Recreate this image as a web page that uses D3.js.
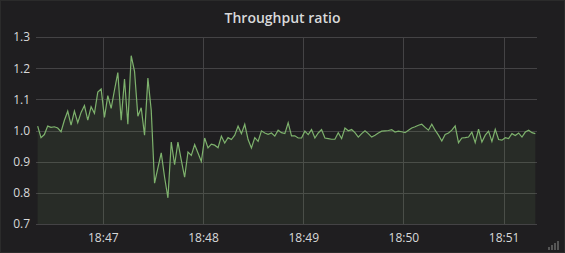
<!DOCTYPE html>
<html>
<head>
<meta charset="utf-8">
<script src="https://cdn.jsdelivr.net/npm/d3@7"></script>
<style>
  html, body { margin: 0; padding: 0; background: #141414; }
  svg { display: block; }
  .tick text { font-family: "Open Sans", sans-serif; font-size: 12px; fill: #d8d9da; }
</style>
</head>
<body>
<svg id="chart" width="565" height="253"></svg>
<script>
// Panel title and axis ticks
const title = "Throughput ratio";
const yTicks = [0.7, 0.8, 0.9, 1.0, 1.1, 1.2, 1.3];
const xTickLabels = ["18:47", "18:48", "18:49", "18:50", "18:51"];

// Time window shown and sampling of the series
const rangeStart = "18:46:20";
const rangeEnd = "18:51:20";
const firstSample = "18:46:21";
const sampleStepSec = 2;

// Throughput ratio, one value per sample
const ratio = [
  1.014, 0.977, 0.987, 1.014, 1.010, 1.012, 1.008, 0.996, 1.033, 1.062,
  1.017, 1.062, 1.025, 1.058, 1.080, 1.033, 1.076, 1.055, 1.123, 1.133,
  1.042, 1.112, 1.071, 1.130, 1.186, 1.033, 1.165, 1.020, 1.240, 1.190,
  1.046, 1.073, 0.985, 1.168, 1.065, 0.831, 0.880, 0.928, 0.850, 0.784,
  0.963, 0.890, 0.963, 0.905, 0.850, 0.931, 0.920, 0.955, 0.928, 0.901,
  0.976, 0.944, 0.956, 0.953, 0.945, 0.982, 0.960, 0.977, 0.971, 0.985,
  1.014, 0.990, 1.020, 0.971, 0.944, 0.977, 0.965, 0.999, 0.992, 0.988,
  0.992, 0.982, 1.001, 0.993, 0.990, 1.025, 0.983, 0.983, 0.976, 0.976,
  0.998, 0.987, 1.003, 0.976, 0.992, 1.003, 0.976, 0.974, 0.972, 0.972,
  0.993, 0.974, 1.008, 0.999, 1.003, 0.993, 0.979, 0.990, 0.999, 0.990,
  0.979, 0.985, 0.992, 0.998, 0.999, 1.000, 1.003, 0.995, 0.998, 0.996,
  0.993, 1.001, 1.008, 1.012, 1.017, 1.020, 1.010, 1.001, 1.020, 1.001,
  0.985, 0.966, 0.987, 0.992, 1.001, 1.015, 0.961, 0.976, 0.977, 0.979,
  0.995, 0.961, 1.004, 0.963, 0.985, 0.998, 0.965, 1.004, 0.971, 0.969,
  0.977, 0.974, 0.990, 0.984, 0.992, 0.979, 0.995, 1.001, 0.993, 0.990
];

const parseTime = d3.timeParse("%H:%M:%S");
const t0 = parseTime(firstSample);
const series = ratio.map((v, i) => ({ t: d3.timeSecond.offset(t0, i * sampleStepSec), v: v }));

const W = 565, H = 253;
const margin = { top: 37, right: 28, bottom: 29, left: 36 };
const iw = W - margin.left - margin.right;
const ih = H - margin.top - margin.bottom;

const svg = d3.select("#chart");

// panel
svg.append("rect")
  .attr("x", 0.5).attr("y", 0.5)
  .attr("width", W - 1).attr("height", H - 1)
  .attr("fill", "#1f1e20")
  .attr("stroke", "#2b2b2b");

svg.append("text")
  .attr("x", W / 2).attr("y", 23)
  .attr("text-anchor", "middle")
  .attr("font-family", "'Open Sans', sans-serif")
  .attr("font-size", 14)
  .attr("font-weight", 600)
  .attr("fill", "#d8d9da")
  .text(title);

const g = svg.append("g").attr("transform", `translate(${margin.left},${margin.top})`);

const x = d3.scaleTime()
  .domain([parseTime(rangeStart), parseTime(rangeEnd)])
  .range([0, iw]);
const y = d3.scaleLinear()
  .domain([d3.min(yTicks), d3.max(yTicks)])
  .range([ih, 0]);

const xTicks = xTickLabels.map(s => parseTime(s + ":00"));

// grid
g.append("g")
  .selectAll("line.h")
  .data(yTicks)
  .join("line")
  .attr("x1", 0).attr("x2", iw)
  .attr("y1", d => Math.round(y(d)) + 0.5)
  .attr("y2", d => Math.round(y(d)) + 0.5)
  .attr("stroke", "#444345");

g.append("g")
  .selectAll("line.v")
  .data(xTicks)
  .join("line")
  .attr("x1", d => Math.round(x(d)) + 0.5)
  .attr("x2", d => Math.round(x(d)) + 0.5)
  .attr("y1", 0).attr("y2", ih)
  .attr("stroke", "#444345");

// axes (labels only)
const yAxis = g.append("g")
  .call(d3.axisLeft(y).tickValues(yTicks).tickFormat(d3.format(".1f")).tickSize(0).tickPadding(6));
yAxis.select(".domain").remove();

const xAxis = g.append("g")
  .attr("transform", `translate(0,${ih})`)
  .call(d3.axisBottom(x).tickValues(xTicks).tickFormat(d3.timeFormat("%H:%M")).tickSize(0).tickPadding(9));
xAxis.select(".domain").remove();

// series
const clip = svg.append("clipPath").attr("id", "plot-clip");
clip.append("rect").attr("x", margin.left).attr("y", margin.top).attr("width", iw).attr("height", ih);

const plot = svg.append("g").attr("clip-path", "url(#plot-clip)")
  .append("g").attr("transform", `translate(${margin.left},${margin.top})`);

const area = d3.area()
  .x(d => x(d.t))
  .y0(ih)
  .y1(d => y(d.v));
const line = d3.line()
  .x(d => x(d.t))
  .y(d => y(d.v));

plot.append("path")
  .datum(series)
  .attr("d", area)
  .attr("fill", "#7eb26d")
  .attr("fill-opacity", 0.1);

plot.append("path")
  .datum(series)
  .attr("d", line)
  .attr("fill", "none")
  .attr("stroke", "#7eb26d")
  .attr("stroke-width", 1.2);

// resize handle in the corner
const grip = [[0, 3], [3, 5], [6, 7], [9, 9]];
svg.append("g")
  .selectAll("rect")
  .data(grip)
  .join("rect")
  .attr("x", d => W - 17 + d[0])
  .attr("y", d => H - 6 - d[1] + 3)
  .attr("width", 2)
  .attr("height", d => d[1])
  .attr("fill", "#555");
</script>
</body>
</html>
